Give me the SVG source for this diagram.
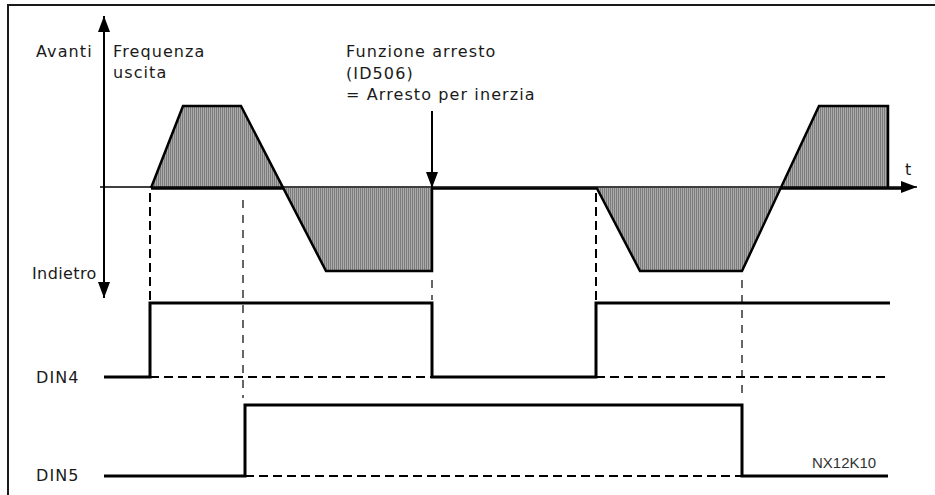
<svg xmlns="http://www.w3.org/2000/svg" width="935" height="495" viewBox="0 0 935 495">
<defs>
<pattern id="hatch" width="2" height="4" patternUnits="userSpaceOnUse">
<rect width="2" height="4" fill="#ababab"/>
<rect width="1" height="4" fill="#7c7c7c"/>
</pattern>
<marker id="ah" viewBox="0 0 16 12" refX="16" refY="6" markerWidth="16" markerHeight="12" markerUnits="userSpaceOnUse" orient="auto">
<path d="M0,0 L16,6 L0,12 Z" fill="#000"/>
</marker>
</defs>
<style>
.lbl{font-family:"DejaVu Sans",sans-serif;font-size:16px;letter-spacing:1.1px;fill:#1a1a1a}
.sig{fill:none;stroke:#000;stroke-width:3}
.wave{fill:none;stroke:#000;stroke-width:2.5;stroke-linejoin:miter}
.ax{fill:none;stroke:#000;stroke-width:2}
.dthick{fill:none;stroke:#000;stroke-width:2;stroke-dasharray:9 5}
.dthin{fill:none;stroke:#000;stroke-width:1.2;stroke-dasharray:8 7}
.fill{fill:url(#hatch);stroke:none}
</style>

<g id="frame">
<path d="M8,495 L8,5 L935,5" fill="none" stroke="#1a1a1a" stroke-width="2"/>
</g>

<g id="freq-wave">
<polygon class="fill" points="151,188 183,106 241,106 283,188"/>
<polygon class="fill" points="283,188 326,271 432,271 432,188"/>
<polygon class="fill" points="597,188 640,271 742,271 781,188"/>
<polygon class="fill" points="781,188 819,106 888,106 888,188"/>
</g>

<g id="connectors">
<line class="ax" x1="104" y1="188" x2="104" y2="16" marker-end="url(#ah)"/>
<line class="ax" x1="104" y1="188" x2="104" y2="298" marker-end="url(#ah)"/>
<line x1="100" y1="187" x2="917" y2="187" stroke="#000" stroke-width="1.5" marker-end="url(#ah)"/>
<line class="ax" x1="432" y1="111" x2="432" y2="188" marker-end="url(#ah)"/>
<line class="dthick" x1="150" y1="193" x2="150" y2="303"/>
<line class="dthick" x1="596" y1="193" x2="596" y2="303"/>
<line class="dthin" x1="243" y1="200" x2="243" y2="398"/>
<line class="dthin" x1="432" y1="280" x2="432" y2="300"/>
<line class="dthin" x1="742" y1="280" x2="742" y2="400"/>
<line class="dthick" x1="150" y1="377" x2="432" y2="377"/>
<line class="dthick" x1="596" y1="377" x2="890" y2="377"/>
<line class="dthick" x1="245" y1="476" x2="742" y2="476"/>
</g>

<g id="freq-outline">
<path class="wave" d="M151,188 L183,106 L241,106 L326,271 L432,271 L432,188"/>
<path class="wave" d="M151,188.5 L283,188.5"/>
<path class="wave" d="M432,188.5 L597,188.5 L640,271 L742,271 L819,106 L888,106 L888,188"/>
<path class="wave" d="M781,188.5 L903,188.5"/>
</g>

<g id="din4">
<path class="sig" d="M104,377 L150,377 L150,303 L432,303 L432,377 L596,377 L596,303 L890,303"/>
<text class="lbl" x="36" y="383">DIN4</text>
</g>

<g id="din5">
<path class="sig" d="M104,476 L245,476 L245,405 L742,405 L742,476 L888,476"/>
<text class="lbl" x="36" y="481">DIN5</text>
</g>

<g id="labels">
<text class="lbl" x="36" y="57">Avanti</text>
<text class="lbl" x="113" y="57">Frequenza</text>
<text class="lbl" x="113" y="78">uscita</text>
<text class="lbl" x="32" y="279" style="letter-spacing:0.4px">Indietro</text>
<text class="lbl" x="346" y="57">Funzione arresto</text>
<text class="lbl" x="346" y="79">(ID506)</text>
<text class="lbl" x="346" y="100">= Arresto per inerzia</text>
<text class="lbl" x="905" y="175">t</text>
<text x="812" y="468" font-family="'Liberation Sans',sans-serif" font-size="15" fill="#333">NX12K10</text>
</g>
</svg>
